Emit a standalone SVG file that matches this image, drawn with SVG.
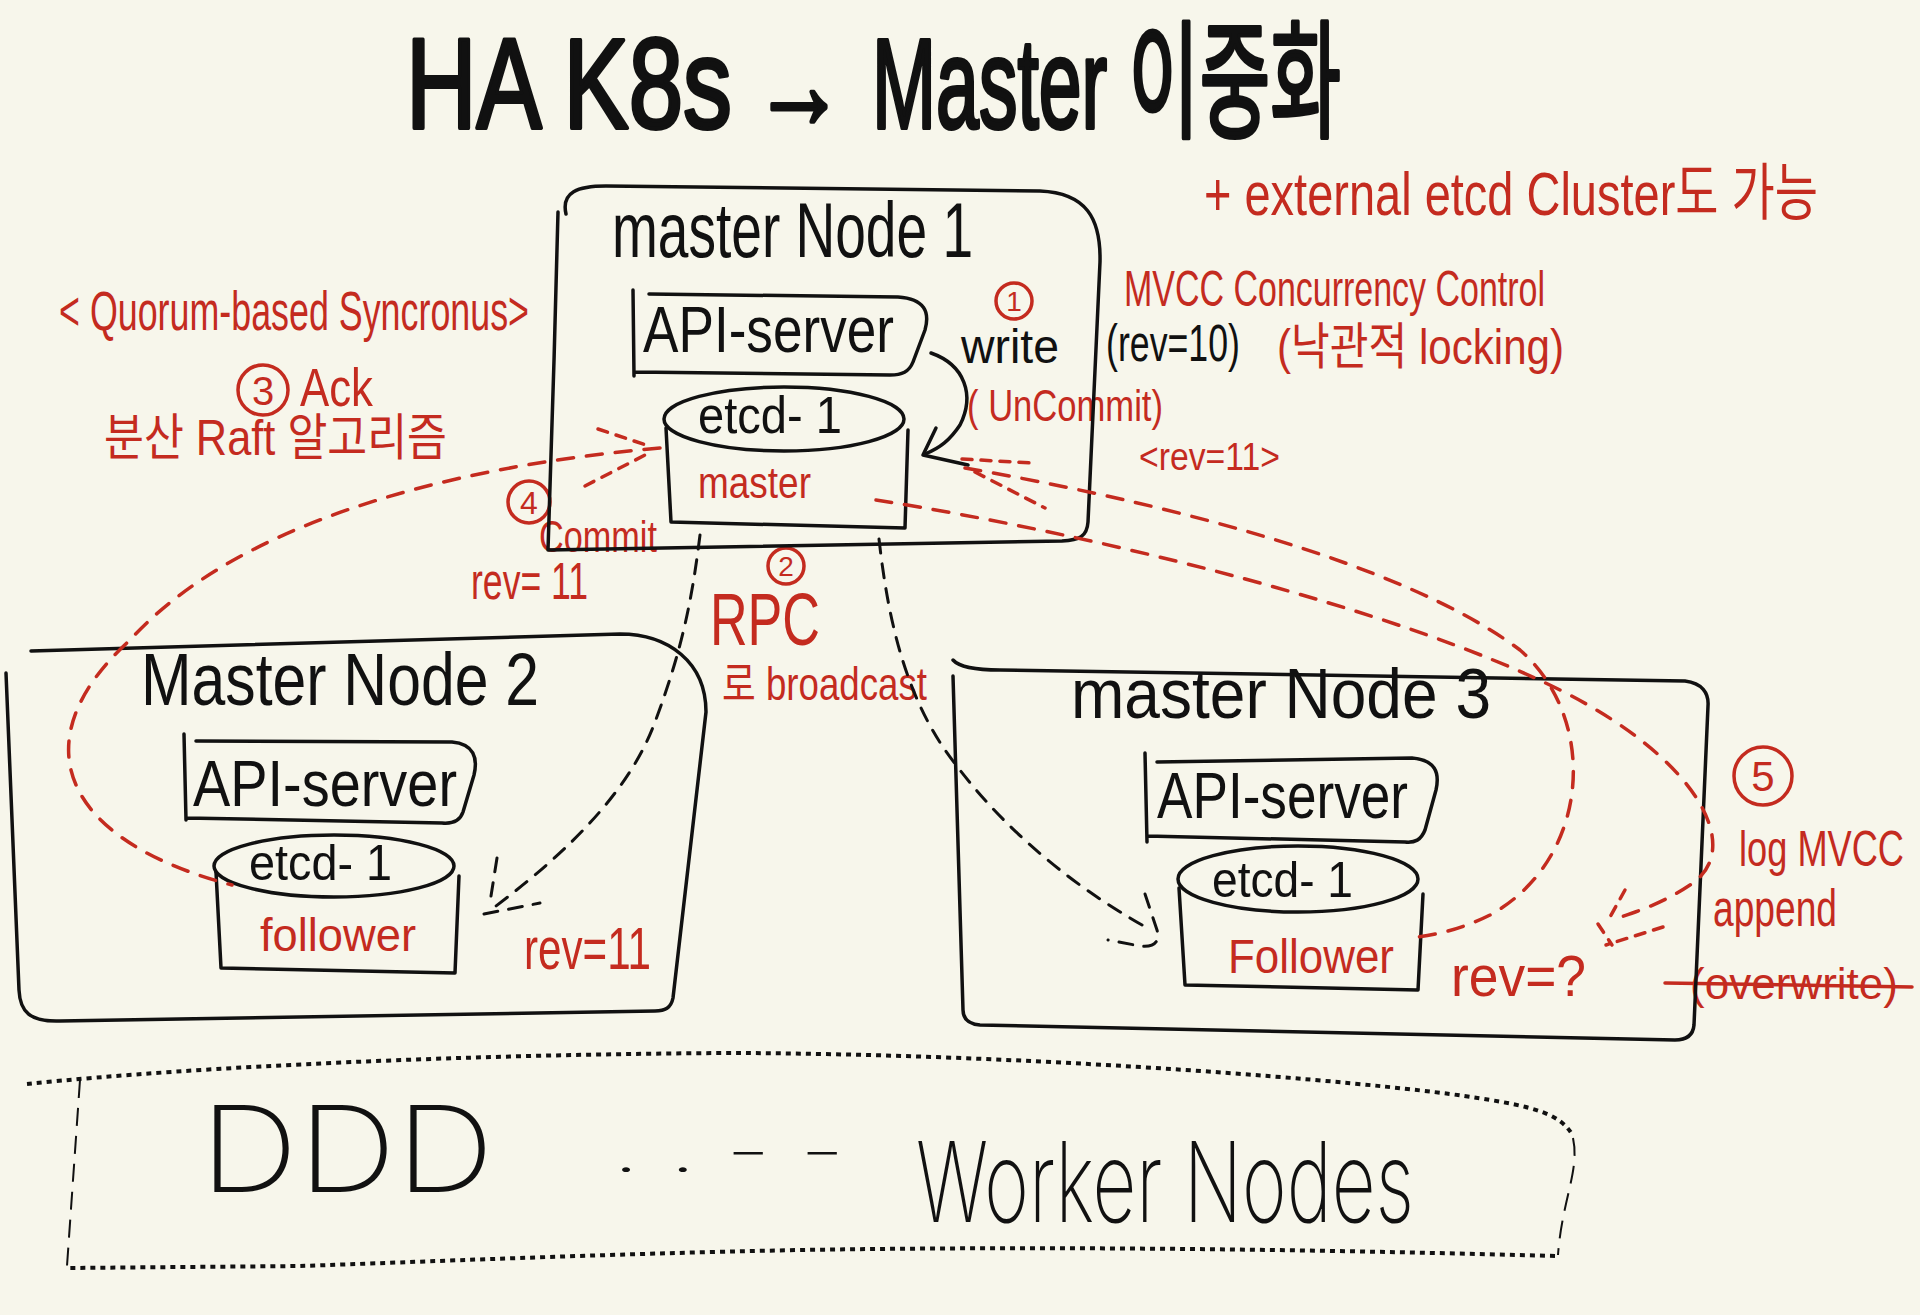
<svg xmlns="http://www.w3.org/2000/svg" width="1920" height="1315" viewBox="0 0 1920 1315">
<defs>
<style>
text{font-family:'Liberation Sans','Noto Sans CJK KR',sans-serif;}
.k{fill:#111;}
.r{fill:#C42B1F;}
.ttl{fill:#111;stroke:#111;stroke-width:4;stroke-linejoin:round;}
.thin{font-family:Inter,'Liberation Sans',sans-serif;font-weight:200;}
.ln{fill:none;stroke:#111;stroke-width:3.5;stroke-linecap:round;stroke-linejoin:round;}
.lnr{fill:none;stroke:#C42B1F;stroke-width:3.5;stroke-linecap:round;}
.dk{fill:none;stroke:#111;stroke-width:3;stroke-dasharray:14 11;stroke-linecap:round;}
.dr{fill:none;stroke:#C42B1F;stroke-width:3.5;stroke-dasharray:16 13;stroke-linecap:round;}
.dr2{fill:none;stroke:#C42B1F;stroke-width:3.5;stroke-dasharray:10 9;stroke-linecap:round;}
.dot{fill:none;stroke:#111;stroke-width:4;stroke-dasharray:5 5;}
.dash{fill:none;stroke:#111;stroke-width:2;stroke-dasharray:18 10;}
.cr{fill:none;stroke:#C42B1F;stroke-width:3.5;}
</style>
</defs>
<rect x="0" y="0" width="1920" height="1315" fill="#F7F6EB"/>

<g id="title">
<text class="ttl" x="406" y="128" font-size="128" textLength="326" lengthAdjust="spacingAndGlyphs">HA K8s</text>
<text class="ttl" x="753" y="128" font-size="128" textLength="92" lengthAdjust="spacingAndGlyphs">→</text>
<text class="ttl" x="872" y="128" font-size="128" textLength="469" lengthAdjust="spacingAndGlyphs">Master 이중화</text>
</g>

<g id="annotations">
<text class="r" x="1204" y="215" font-size="62" textLength="614" lengthAdjust="spacingAndGlyphs">+ external etcd Cluster도 가능</text>
<text class="r" x="1124" y="306" font-size="50" textLength="421" lengthAdjust="spacingAndGlyphs">MVCC  Concurrency  Control</text>
<text class="k" x="1106" y="361" font-size="52" textLength="134" lengthAdjust="spacingAndGlyphs">(rev=10)</text>
<text class="r" x="1277" y="364" font-size="50" textLength="287" lengthAdjust="spacingAndGlyphs">(낙관적 locking)</text>
<text class="r" x="59" y="330" font-size="56" textLength="470" lengthAdjust="spacingAndGlyphs">&lt; Quorum-based Syncronus&gt;</text>
<circle class="cr" cx="263" cy="390" r="25"/>
<text class="r" x="263" y="405" font-size="40" text-anchor="middle">3</text>
<text class="r" x="300" y="406" font-size="54" textLength="73" lengthAdjust="spacingAndGlyphs">Ack</text>
<text class="r" x="104" y="455" font-size="50" textLength="343" lengthAdjust="spacingAndGlyphs">분산 Raft 알고리즘</text>
<circle class="cr" cx="529" cy="502" r="21"/>
<text class="r" x="529" y="514" font-size="32" text-anchor="middle">4</text>
<text class="r" x="539" y="552" font-size="44" textLength="118" lengthAdjust="spacingAndGlyphs">Commit</text>
<text class="r" x="471" y="599" font-size="52" textLength="117" lengthAdjust="spacingAndGlyphs">rev= 11</text>
<circle class="cr" cx="786" cy="566" r="18"/>
<text class="r" x="786" y="576" font-size="28" text-anchor="middle">2</text>
<text class="r" x="710" y="645" font-size="74" textLength="110" lengthAdjust="spacingAndGlyphs">RPC</text>
<text class="r" x="722" y="700" font-size="46" textLength="205" lengthAdjust="spacingAndGlyphs">로 broadcast</text>
<circle class="cr" cx="1014" cy="301" r="18"/>
<text class="r" x="1014" y="311" font-size="28" text-anchor="middle">1</text>
<text class="k" x="961" y="363" font-size="48" textLength="98" lengthAdjust="spacingAndGlyphs">write</text>
<text class="r" x="967" y="421" font-size="44" textLength="196" lengthAdjust="spacingAndGlyphs">( UnCommit)</text>
<text class="r" x="1139" y="470" font-size="38" textLength="141" lengthAdjust="spacingAndGlyphs">&lt;rev=11&gt;</text>
<text class="r" x="524" y="969" font-size="60" textLength="127" lengthAdjust="spacingAndGlyphs">rev=11</text>
<text class="r" x="1451" y="996" font-size="58" textLength="135" lengthAdjust="spacingAndGlyphs">rev=?</text>
<circle class="cr" cx="1763" cy="776" r="29"/>
<text class="r" x="1763" y="791" font-size="42" text-anchor="middle">5</text>
<text class="r" x="1739" y="866" font-size="50" textLength="165" lengthAdjust="spacingAndGlyphs">log MVCC</text>
<text class="r" x="1713" y="926" font-size="52" textLength="124" lengthAdjust="spacingAndGlyphs">append</text>
<text class="r" x="1690" y="999" font-size="44" textLength="208" lengthAdjust="spacingAndGlyphs">(overwrite)</text>
<path class="lnr" d="M 1665,983 L 1912,987"/>
</g>

<g id="node1">
<path class="ln" d="M 566,214 C 561,192 578,186 606,186 L 1040,191 C 1086,193 1101,218 1100,262 L 1088,522 C 1087,537 1079,540 1062,541 L 548,550 C 552,450 555,320 558,212"/>
<text class="k" x="612" y="257" font-size="78" textLength="361" lengthAdjust="spacingAndGlyphs">master Node 1</text>
<path class="ln" d="M 633,290 L 634,376 M 649,294 L 898,297 C 925,299 930,312 925,330 L 913,362 C 909,372 902,375 890,375 L 634,372"/>
<text class="k" x="643" y="352" font-size="64" textLength="251" lengthAdjust="spacingAndGlyphs">API-server</text>
<ellipse class="ln" cx="784" cy="419" rx="120" ry="32"/>
<path class="ln" d="M 666,428 L 671,522 L 905,528 L 908,430"/>
<text class="k" x="698" y="433" font-size="52" textLength="144" lengthAdjust="spacingAndGlyphs">etcd- 1</text>
<text class="r" x="698" y="498" font-size="44" textLength="113" lengthAdjust="spacingAndGlyphs">master</text>
</g>

<g id="node2">
<path class="ln" d="M 31,651 L 620,634 C 668,634 706,662 706,712 L 673,998 C 671,1008 665,1011 655,1011 L 60,1021 C 30,1022 20,1012 19,990 L 6,673"/>
<text class="k" x="141" y="705" font-size="74" textLength="398" lengthAdjust="spacingAndGlyphs">Master Node 2</text>
<path class="ln" d="M 184,734 L 186,820 M 196,741 L 452,742 C 474,744 478,758 474,775 L 463,812 C 460,821 453,824 442,823 L 186,818"/>
<text class="k" x="193" y="806" font-size="64" textLength="264" lengthAdjust="spacingAndGlyphs">API-server</text>
<ellipse class="ln" cx="334" cy="866" rx="120" ry="31"/>
<path class="ln" d="M 216,872 L 221,968 L 455,973 L 459,876"/>
<text class="k" x="249" y="880" font-size="50" textLength="143" lengthAdjust="spacingAndGlyphs">etcd- 1</text>
<text class="r" x="260" y="951" font-size="46" textLength="156" lengthAdjust="spacingAndGlyphs">follower</text>
</g>

<g id="node3">
<path class="ln" d="M 953,660 C 960,668 980,670 1000,670 L 1685,681 C 1702,683 1709,693 1708,706 L 1694,1025 C 1693,1036 1686,1040 1675,1040 L 980,1025 C 968,1024 963,1018 963,1010 L 953,676"/>
<text class="k" x="1071" y="718" font-size="70" textLength="420" lengthAdjust="spacingAndGlyphs">master Node 3</text>
<path class="ln" d="M 1145,753 L 1147,842 M 1157,762 L 1412,758 C 1435,760 1440,772 1436,790 L 1425,830 C 1421,840 1415,843 1405,842 L 1147,836"/>
<text class="k" x="1157" y="818" font-size="64" textLength="251" lengthAdjust="spacingAndGlyphs">API-server</text>
<ellipse class="ln" cx="1298" cy="879" rx="120" ry="33"/>
<path class="ln" d="M 1179,888 L 1185,985 L 1418,990 L 1423,894"/>
<text class="k" x="1212" y="897" font-size="50" textLength="141" lengthAdjust="spacingAndGlyphs">etcd- 1</text>
<text class="r" x="1228" y="973" font-size="48" textLength="166" lengthAdjust="spacingAndGlyphs">Follower</text>
</g>

<g id="workers">
<path class="dot" d="M 27,1084 C 200,1066 480,1054 735,1053 C 1000,1054 1300,1075 1450,1094 C 1530,1105 1560,1112 1573,1136"/>
<path class="dash" d="M 1573,1138 C 1580,1170 1562,1200 1558,1255"/>
<path class="dot" d="M 1555,1256 C 1300,1249 1050,1246 800,1250 C 600,1254 420,1262 300,1266 L 67,1268"/>
<path class="dash" d="M 80,1080 L 67,1266"/>
<text class="k thin" x="200" y="1192" font-size="120" textLength="294" lengthAdjust="spacingAndGlyphs">DDD</text>
<text class="k thin" x="612" y="1172" font-size="60" textLength="233" lengthAdjust="spacingAndGlyphs">. .  - -</text>
<text class="k thin" x="916" y="1222" font-size="112" textLength="498" lengthAdjust="spacingAndGlyphs">Worker Nodes</text>
</g>

<g id="connectors">
<path class="ln" d="M 931,353 C 965,365 975,395 960,425 C 950,440 940,448 925,454"/>
<path class="ln" d="M 923,455 L 968,465 M 923,455 L 936,428"/>
<path class="dk" d="M 700,535 C 692,600 682,650 655,722 C 630,790 570,850 496,906"/>
<path class="dk" d="M 497,858 L 491,896 M 484,914 L 540,903"/>
<path class="dk" d="M 879,539 C 888,620 905,690 943,747 C 990,815 1060,880 1151,930"/>
<path class="dk" d="M 1145,894 L 1157,930 C 1160,940 1156,948 1140,946 L 1108,940"/>
<path class="dr" d="M 660,448 C 430,468 230,530 130,640 C 20,740 60,840 232,885"/>
<path class="dr2" d="M 598,429 L 652,447 M 585,486 L 645,455"/>
<path class="dr2" d="M 962,459 L 1032,463 M 975,472 L 1045,508"/>
<path class="dr" d="M 965,468 C 1150,500 1400,560 1520,650 C 1600,720 1590,860 1490,915 C 1460,930 1432,936 1408,938"/>
<path class="dr" d="M 876,500 C 1100,535 1400,610 1560,690 C 1700,760 1745,850 1690,885 C 1660,905 1635,912 1612,920"/>
<path class="dr2" d="M 1625,890 L 1610,917 M 1598,924 L 1612,945 M 1663,927 L 1606,945"/>
</g>
</svg>
